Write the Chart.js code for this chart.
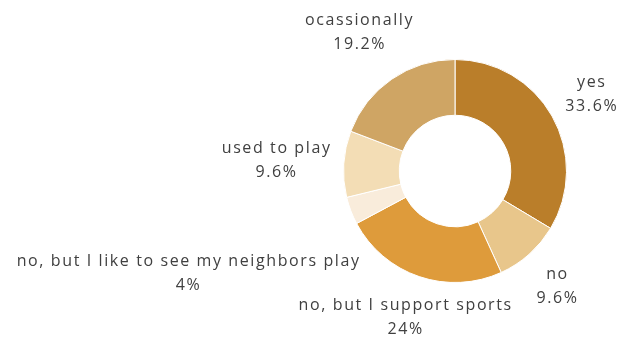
<!DOCTYPE html>
<html>
<head>
<meta charset="utf-8">
<script src="https://cdn.jsdelivr.net/npm/chart.js@4/dist/chart.umd.min.js"></script>
<style>
  html, body { margin: 0; padding: 0; background: #ffffff; }
  #wrap { width: 618px; height: 343px; }
</style>
</head>
<body>
<div id="wrap"><canvas id="chart" width="618" height="343"></canvas></div>
<script>
// Survey answers and their shares (percent)
const categories = [
  'yes',
  'no',
  'no, but I support sports',
  'no, but I like to see my neighbors play',
  'used to play',
  'ocassionally'
];
const shares = [33.6, 9.6, 24, 4, 9.6, 19.2];
const sliceColors = ['#ba7e2a', '#e8c68b', '#de9b3b', '#f9ecdb', '#f3ddb5', '#cfa564'];

const LABEL_FONT = '500 16px "Open Sans", sans-serif';
const LABEL_SPACING = '1.6px';
const LINE_GAP = 24;
const LABEL_GAP = 12;

// Draws "category / percent" blocks outside the ring, pushed out along each
// slice's mid-angle until the block clears a circle just beyond the ring.
const outsideLabels = {
  id: 'outsideLabels',
  afterDatasetsDraw(chart) {
    const ctx = chart.ctx;
    const meta = chart.getDatasetMeta(0);
    const values = chart.data.datasets[0].data;
    ctx.save();
    ctx.font = LABEL_FONT;
    if ('letterSpacing' in ctx) ctx.letterSpacing = LABEL_SPACING;
    ctx.fillStyle = '#404040';
    ctx.textAlign = 'center';
    ctx.textBaseline = 'alphabetic';
    meta.data.forEach((arc, i) => {
      const p = arc.getProps(['x', 'y', 'startAngle', 'endAngle', 'outerRadius'], true);
      const mid = (p.startAngle + p.endAngle) / 2;
      const ux = Math.cos(mid), uy = Math.sin(mid);
      const lines = [chart.data.labels[i], values[i] + '%'];
      const w = Math.max(...lines.map(t => ctx.measureText(t).width));
      const hw = w / 2, hh = LINE_GAP - 2;
      const target = p.outerRadius + LABEL_GAP;
      // distance from ring centre to the nearest point of the block
      const clearance = d => {
        const gx = Math.max(0, Math.abs(ux * d) - hw);
        const gy = Math.max(0, Math.abs(uy * d) - hh);
        return Math.hypot(gx, gy);
      };
      let lo = 0, hi = 2000;
      for (let k = 0; k < 60; k++) {
        const m = (lo + hi) / 2;
        if (clearance(m) < target) lo = m; else hi = m;
      }
      const cx = p.x + ux * hi;
      const cy = p.y + uy * hi;
      ctx.fillText(lines[0], cx, cy - 7);
      ctx.fillText(lines[1], cx, cy - 7 + LINE_GAP);
    });
    ctx.restore();
  }
};

new Chart(document.getElementById('chart'), {
  type: 'doughnut',
  data: {
    labels: categories,
    datasets: [{
      data: shares,
      backgroundColor: sliceColors,
      borderColor: '#ffffff',
      borderWidth: 1,
      hoverOffset: 0
    }]
  },
  options: {
    responsive: false,
    animation: false,
    cutout: '50%',
    layout: { padding: { left: 343, right: 51, top: 59, bottom: 60 } },
    plugins: {
      legend: { display: false },
      tooltip: { enabled: false }
    }
  },
  plugins: [outsideLabels]
});
</script>
</body>
</html>
